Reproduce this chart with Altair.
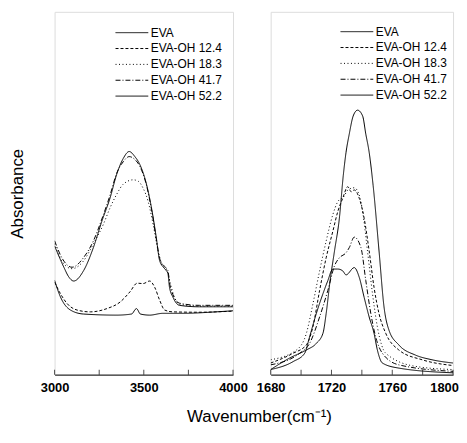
import altair as alt
import pandas as pd

SERIES = ["EVA", "EVA-OH 12.4", "EVA-OH 18.3", "EVA-OH 41.7", "EVA-OH 52.2"]
DASHES = [[1, 0], [3, 2], [1, 2.5], [5, 2, 1, 2], [1, 0]]
WIDTHS = [1, 1, 1, 1, 2]

# ---- left panel: 3000-4000 cm-1 ----
OH_EVA_X = [3000, 3033, 3089, 3163, 3348, 3431, 3459, 3481, 3533, 3607, 3720, 3904, 4000]
OH_EVA_Y = [0.260, 0.214, 0.178, 0.167, 0.164, 0.167, 0.182, 0.167, 0.164, 0.169, 0.169, 0.173, 0.176]

OH_124_X = [3000, 3033, 3070, 3126, 3200, 3293, 3367, 3422, 3463, 3496, 3533, 3561, 3589, 3617, 3663, 3800, 4000]
OH_124_Y = [0.255, 0.223, 0.196, 0.178, 0.173, 0.182, 0.200, 0.228, 0.252, 0.251, 0.258, 0.241, 0.205, 0.178, 0.173, 0.172, 0.175]

OH_183_X = [3000, 3043, 3098, 3163, 3218, 3274, 3311, 3348, 3385, 3441, 3469, 3496, 3524, 3552, 3580, 3600, 3635, 3650, 3670, 3700, 3811, 4000]
OH_183_Y = [0.361, 0.311, 0.292, 0.314, 0.361, 0.415, 0.460, 0.497, 0.525, 0.537, 0.533, 0.514, 0.478, 0.415, 0.342, 0.306, 0.281, 0.249, 0.216, 0.194, 0.189, 0.189]

OH_417_X = [3000, 3043, 3098, 3163, 3218, 3265, 3311, 3348, 3385, 3418, 3450, 3478, 3515, 3543, 3570, 3589, 3617, 3635, 3644, 3663, 3700, 3811, 4000]
OH_417_Y = [0.369, 0.320, 0.296, 0.323, 0.369, 0.429, 0.495, 0.555, 0.587, 0.601, 0.593, 0.574, 0.522, 0.456, 0.374, 0.320, 0.298, 0.287, 0.254, 0.221, 0.197, 0.191, 0.191]

OH_522_X = [3000, 3052, 3080, 3107, 3163, 3218, 3265, 3311, 3348, 3385, 3418, 3450, 3478, 3515, 3543, 3570, 3589, 3617, 3635, 3644, 3663, 3700, 3811, 4000]
OH_522_Y = [0.355, 0.296, 0.269, 0.258, 0.287, 0.351, 0.423, 0.487, 0.552, 0.596, 0.615, 0.601, 0.579, 0.525, 0.460, 0.378, 0.314, 0.292, 0.279, 0.241, 0.214, 0.191, 0.187, 0.187]

# ---- right panel: 1680-1800 cm-1 ----
CO_EVA_X = [1680, 1692.6, 1703.5, 1710, 1714.4, 1716.5, 1719.1, 1722, 1725.2, 1727.8, 1729.6, 1731.7, 1734.3, 1737.2, 1740.5, 1742.6, 1744.8, 1747.4, 1751.3, 1754.6, 1757.8, 1764.3, 1775.2, 1786.1, 1800]
CO_EVA_Y = [0.014, 0.046, 0.068, 0.086, 0.114, 0.168, 0.259, 0.341, 0.431, 0.550, 0.613, 0.663, 0.713, 0.729, 0.713, 0.663, 0.613, 0.522, 0.341, 0.186, 0.123, 0.082, 0.054, 0.041, 0.032]

CO_124_X = [1680, 1694.8, 1703.5, 1707.8, 1712.2, 1716.5, 1720.9, 1724.2, 1727.4, 1730.7, 1733, 1735, 1738.3, 1741.5, 1744.8, 1748, 1751.3, 1755.7, 1764.3, 1779.6, 1800]
CO_124_Y = [0.032, 0.059, 0.082, 0.132, 0.232, 0.322, 0.395, 0.450, 0.486, 0.518, 0.504, 0.509, 0.486, 0.431, 0.341, 0.241, 0.168, 0.114, 0.068, 0.041, 0.025]

CO_183_X = [1680, 1697, 1703.5, 1707.8, 1712.2, 1716.5, 1720.9, 1724.2, 1728, 1731, 1735, 1738.3, 1740.5, 1743.7, 1747, 1750.2, 1755.7, 1775, 1800]
CO_183_Y = [0.041, 0.068, 0.114, 0.195, 0.286, 0.368, 0.441, 0.477, 0.490, 0.510, 0.515, 0.495, 0.450, 0.341, 0.223, 0.132, 0.059, 0.023, 0.014]

CO_417_X = [1680, 1699.1, 1705.6, 1712.2, 1717.6, 1722, 1725.2, 1729.6, 1731.7, 1735, 1739.4, 1742.6, 1745.9, 1749.1, 1753.5, 1764.3, 1800]
CO_417_Y = [0.027, 0.059, 0.086, 0.159, 0.232, 0.300, 0.322, 0.336, 0.350, 0.379, 0.350, 0.259, 0.168, 0.104, 0.059, 0.027, 0.009]

CO_522_X = [1680, 1694.8, 1702.4, 1705.6, 1710, 1714.4, 1717.6, 1720.9, 1724.2, 1727.4, 1729.6, 1735, 1738.3, 1741.5, 1744.8, 1748, 1750.2, 1753.5, 1764.3, 1800]
CO_522_Y = [0.014, 0.036, 0.059, 0.104, 0.168, 0.223, 0.259, 0.291, 0.291, 0.286, 0.275, 0.295, 0.268, 0.213, 0.159, 0.114, 0.068, 0.032, 0.018, 0.005]

LEFT_TICKS = [3000, 3250, 3500, 3750, 4000]
LEFT_LABELS = [3000, 3500, 4000]
RIGHT_TICKS = [1680, 1700, 1720, 1740, 1760, 1780, 1800]
RIGHT_LABELS = [1680, 1720, 1760, 1800]

FONT = "Liberation Sans"
H = 366


def frame(pairs):
    rows = []
    for name, xs, ys in pairs:
        for x, y in zip(xs, ys):
            rows.append({"series": name, "wn": x, "ab": y})
    return pd.DataFrame(rows)


left_df = frame([
    ("EVA", OH_EVA_X, OH_EVA_Y), ("EVA-OH 12.4", OH_124_X, OH_124_Y),
    ("EVA-OH 18.3", OH_183_X, OH_183_Y), ("EVA-OH 41.7", OH_417_X, OH_417_Y),
    ("EVA-OH 52.2", OH_522_X, OH_522_Y)])
right_df = frame([
    ("EVA", CO_EVA_X, CO_EVA_Y), ("EVA-OH 12.4", CO_124_X, CO_124_Y),
    ("EVA-OH 18.3", CO_183_X, CO_183_Y), ("EVA-OH 41.7", CO_417_X, CO_417_Y),
    ("EVA-OH 52.2", CO_522_X, CO_522_Y)])


def panel(df, xdom, ticks, labels, width, legx, legy, ytitle):
    legend = alt.Legend(
        orient="none", legendX=legx, legendY=legy, title=None,
        symbolType="M-3,0L3,0", symbolSize=121, symbolStrokeColor="black",
        labelFont=FONT, labelFontSize=12, labelColor="black",
        rowPadding=4, labelOffset=13, padding=0)
    if ytitle:
        yaxis = alt.Axis(labels=False, ticks=False, domain=False, grid=False,
                         title=ytitle, titleFont=FONT, titleFontSize=17,
                         titleFontWeight="normal", titleColor="black", titlePadding=28)
    else:
        yaxis = None
    xaxis = alt.Axis(values=labels, tickSize=0, labelPadding=7, labelFont=FONT,
                     labelFontSize=13, labelFontWeight="bold", labelColor="black",
                     labelFlush=False, labelOverlap=False,
                     labelOffset={"condition": {"test": "datum.value == 1800", "value": -9}, "value": 0},
                     domainColor="black", grid=False, title=None, format="d")
    xscale = alt.Scale(domain=xdom, nice=False, zero=False)
    lines = alt.Chart(df).mark_line(color="black", clip=True, interpolate="monotone").encode(
        x=alt.X("wn:Q", scale=xscale, axis=xaxis),
        y=alt.Y("ab:Q", scale=alt.Scale(domain=[0, 1], nice=False, zero=False), axis=yaxis),
        strokeDash=alt.StrokeDash("series:N", scale=alt.Scale(domain=SERIES, range=DASHES), legend=legend),
        strokeWidth=alt.StrokeWidth("series:N", scale=alt.Scale(domain=SERIES, range=WIDTHS), legend=legend),
    )
    tick_layer = alt.Chart(pd.DataFrame({"wn": ticks})).mark_tick(
        color="black", size=5, thickness=1, orient="vertical").encode(
        x=alt.X("wn:Q", scale=xscale, axis=xaxis), y=alt.value(H - 2.5))
    return alt.layer(lines, tick_layer).properties(width=width, height=H)


left = panel(left_df, [3000, 4000], LEFT_TICKS, LEFT_LABELS, 180, 72, 15, "Absorbance")
right = panel(right_df, [1680, 1800], RIGHT_TICKS, RIGHT_LABELS, 184, 81, 14, None)

chart = alt.hconcat(left, right, spacing=8).resolve_scale(
    x="independent", y="independent"
).resolve_legend(strokeDash="independent", strokeWidth="independent").properties(
    title=alt.TitleParams("Wavenumber(cm⁻¹)", orient="bottom", anchor="middle",
                          font=FONT, fontSize=17, fontWeight="normal", color="black",
                          offset=14, dx=26),
    padding={"left": 0, "top": 1, "right": 0, "bottom": 5},
).configure_view(stroke="black", strokeWidth=1).configure(background="white")

chart.save("out.html", embed_options={"renderer": "svg", "actions": False})
